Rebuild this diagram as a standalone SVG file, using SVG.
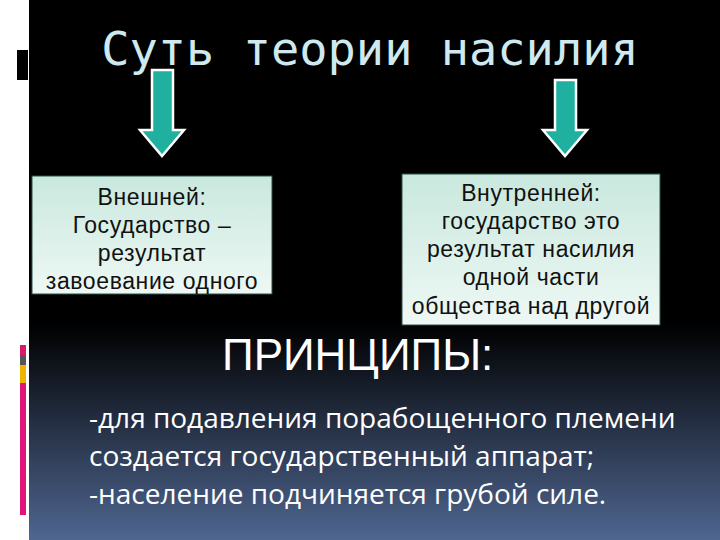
<svg xmlns="http://www.w3.org/2000/svg" width="720" height="540" viewBox="0 0 720 540">
<defs>
<linearGradient id="bg" x1="0" y1="0" x2="0" y2="1">
<stop offset="0" stop-color="#000"/><stop offset="0.6" stop-color="#000"/><stop offset="1" stop-color="#4f6690"/>
</linearGradient>
<linearGradient id="box" x1="0" y1="0" x2="0" y2="1">
<stop offset="0" stop-color="#c9e8de"/><stop offset="1" stop-color="#eef8f5"/>
</linearGradient>
<style>
.arr{fill:#1fb0a0;stroke:#fff;stroke-width:2.5}
.bx{fill:url(#box);stroke:#2a5048;stroke-width:1}
.bt{font-family:"Liberation Sans",Arial,sans-serif;font-size:23px;letter-spacing:0.6px;fill:#111;text-anchor:middle}
.w{font-family:"Open Sans","DejaVu Sans",sans-serif;fill:#fff}
</style>
</defs>
<rect width="720" height="540" fill="#fff"/>
<rect x="29" y="0" width="691" height="540" fill="url(#bg)"/>
<rect x="17" y="50" width="11" height="30" fill="#000"/>
<rect x="20" y="345" width="6" height="10" fill="#d81b6a"/>
<rect x="20" y="355" width="6" height="10" fill="#555"/>
<rect x="20" y="365" width="6" height="18" fill="#f0b400"/>
<rect x="20" y="383" width="6" height="132" fill="#e0157a"/>
<text x="370" y="65" font-family="DejaVu Sans Mono,monospace" font-size="47" fill="#cfe9f0" text-anchor="middle">Суть теории насилия</text>
<g id="connectors">
<path class="arr" d="M152,70H173V130H184L162,156L140,130H152Z"/>
<path class="arr" d="M555,80H576V130H587L565,156L543,130H555Z"/>
</g>
<g id="n1"><rect class="bx" x="32" y="176" width="240" height="118"/>
<text class="bt" x="152" y="205">Внешней:</text><text class="bt" x="152" y="233">Государство –</text><text class="bt" x="152" y="261">результат</text><text class="bt" x="152" y="289">завоевание одного</text></g>
<g id="n2"><rect class="bx" x="402" y="174" width="258" height="151"/>
<text class="bt" x="531" y="201">Внутренней:</text><text class="bt" x="531" y="229">государство это</text><text class="bt" x="531" y="257">результат насилия</text><text class="bt" x="531" y="285">одной части</text><text class="bt" x="531" y="314">общества над другой</text></g>
<text x="222" y="370" font-family="Liberation Sans,Arial,sans-serif" font-size="44" fill="#fff">ПРИНЦИПЫ:</text>
<g class="w" font-size="28">
<text x="89" y="428">-для подавления порабощенного племени</text>
<text x="89" y="466">создается государственный аппарат;</text>
<text x="89" y="504">-население подчиняется грубой силе.</text>
</g>
</svg>
